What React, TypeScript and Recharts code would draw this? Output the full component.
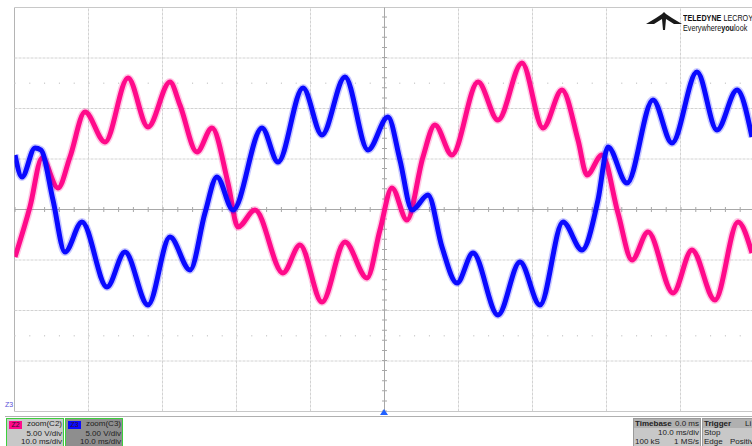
import { LineChart, Line, XAxis, YAxis, ReferenceLine } from 'recharts';

// zoom(C2) trace, pink: time in ms, level in V
const c2Time = [0.07, 2.09, 3.72, 5.88, 7.5, 9.53, 12.23, 15.34, 18.04, 21.01, 22.36, 24.66, 26.69, 28.85, 30.2, 32.5, 36.28, 38.58, 41.55, 44.66, 47.64, 49.39, 51.01, 53.04, 55.2, 56.82, 59.12, 62.64, 65.34, 68.58, 71.42, 73.99, 76.15, 77.36, 79.39, 81.55, 83.45, 85.61, 88.99, 91.55, 94.66, 97.77, 99.66];
const c2Volts = [-4.7, 0.25, 5.1, 2.13, 5.2, 9.65, 6.68, 13.02, 8.17, 12.62, 10.35, 5.69, 8.07, 2.62, -1.73, -0.05, -6.29, -3.51, -9.16, -3.22, -6.78, -2.03, 2.13, -1.04, 5.2, 8.37, 5.4, 12.62, 8.86, 14.5, 8.07, 11.83, 6.88, 3.42, 5.4, -0.35, -5.0, -2.23, -8.27, -4.01, -8.96, -1.24, -4.31];

// zoom(C3) trace, blue
const c3Time = [0.07, 1.01, 2.77, 3.58, 5.2, 6.82, 9.12, 12.5, 14.93, 18.04, 21.01, 23.72, 25.74, 27.36, 29.53, 33.45, 35.61, 38.99, 41.55, 44.66, 47.77, 50.47, 52.09, 53.72, 55.88, 57.77, 59.8, 61.96, 65.34, 68.31, 71.01, 74.12, 76.69, 78.85, 80.2, 82.77, 86.28, 88.85, 92.23, 94.93, 97.64, 99.66];
const c3Volts = [5.4, 3.22, 6.09, 5.89, 0.94, -4.21, -1.24, -7.67, -4.21, -9.46, -2.72, -5.99, -0.35, 3.22, -0.05, 8.07, 4.7, 12.03, 7.38, 13.12, 5.89, 9.16, 4.9, -0.05, 1.44, -3.71, -7.28, -4.31, -10.45, -5.2, -9.46, -1.24, -4.01, 0.94, 6.19, 2.62, 10.84, 6.58, 13.61, 7.87, 11.83, 7.18];

// 10.0 ms/div, 5.00 V/div
const timeDivs = [0, 10, 20, 30, 40, 60, 70, 80, 90, 100];
const voltDivs = [-15, -10, -5, 5, 10, 15];

const c2Data = c2Time.map((t, i) => ({ t, v: c2Volts[i] }));
const c3Data = c3Time.map((t, i) => ({ t, v: c3Volts[i] }));

const PINK = '#ff0a8a';
const BLUE = '#0a0aff';
const font = "'Liberation Sans', Arial, sans-serif";

function InfoBox({ left, width, bg, label, labelBg, lines }: { left: number; width: number; bg: string; label: string; labelBg: string; lines: string[] }) {
  return (
    <div style={{ position: 'absolute', left, top: 418, width, height: 32, background: bg, border: '1px solid #3ccf3c', boxSizing: 'border-box', fontFamily: font, fontSize: 8, color: '#222' }}>
      <div style={{ position: 'absolute', left: 2, top: 2, width: 13, height: 8, background: labelBg, fontSize: 7, lineHeight: '8px', textAlign: 'center', color: '#301030' }}>{label}</div>
      <div style={{ position: 'absolute', right: 1, top: 1, lineHeight: '8px' }}>{lines[0]}</div>
      <div style={{ position: 'absolute', right: 1, top: 11, lineHeight: '8px' }}>{lines[1]}</div>
      <div style={{ position: 'absolute', right: 1, top: 19, lineHeight: '8px' }}>{lines[2]}</div>
    </div>
  );
}

export default function App() {
  return (
    <div style={{ position: 'fixed', left: 0, top: 0, width: 752, height: 446, overflow: 'hidden', background: '#fff' }}>
      <LineChart width={760} height={446} margin={{ top: 7.5, right: 5.5, bottom: 34.5, left: 14.5 }}>
        <XAxis dataKey="t" type="number" domain={[0, 100]} hide allowDataOverflow />
        <YAxis type="number" domain={[-20, 20]} hide allowDataOverflow />
        {timeDivs.map(t => (
          <ReferenceLine key={'x' + t} x={t} stroke={t === 0 ? '#b4b4b4' : '#d2d2d2'} strokeDasharray={t === 0 ? undefined : '3 1'} />
        ))}
        {voltDivs.map(v => (
          <ReferenceLine key={'y' + v} y={v} stroke="#d2d2d2" strokeDasharray="3 1" />
        ))}
        <ReferenceLine y={20} stroke="#c8c8c8" />
        <ReferenceLine y={-20} stroke="#c8c8c8" />
        <ReferenceLine y={12.5} stroke="#cccccc" strokeWidth={1.5} strokeDasharray="1 13.8" />
        <ReferenceLine y={-12.5} stroke="#cccccc" strokeWidth={1.5} strokeDasharray="1 13.8" />
        <ReferenceLine y={0} stroke="#a8a8a8" />
        <ReferenceLine x={50} stroke="#a8a8a8" />
        <ReferenceLine y={0} stroke="#a8a8a8" strokeWidth={5} strokeDasharray="1 13.8" />
        <ReferenceLine x={50} stroke="#a8a8a8" strokeWidth={5} strokeDasharray="1 9.1" />
        <Line data={c2Data} dataKey="v" type="monotone" stroke={PINK} strokeWidth={8} strokeOpacity={0.22} dot={false} isAnimationActive={false} />
        <Line data={c2Data} dataKey="v" type="monotone" stroke={PINK} strokeWidth={5} dot={false} isAnimationActive={false} />
        <Line data={c3Data} dataKey="v" type="monotone" stroke={BLUE} strokeWidth={8} strokeOpacity={0.22} dot={false} isAnimationActive={false} />
        <Line data={c3Data} dataKey="v" type="monotone" stroke={BLUE} strokeWidth={5} dot={false} isAnimationActive={false} />
      </LineChart>

      {/* logo */}
      <svg width={40} height={24} style={{ position: 'absolute', left: 644, top: 9 }}>
        <polygon points="2,15 12,9 18,5 20,3 22,5 28,9 38,15 30,15 22,10 21,21 19,21 18,10 10,15" fill="#1a1a1a" />
      </svg>
      <div style={{ position: 'absolute', left: 683, top: 13, fontFamily: font, fontSize: 9, color: '#111', whiteSpace: 'nowrap', lineHeight: '10px', transform: 'scaleX(0.8)', transformOrigin: 'left top' }}>
        <b>TELEDYNE</b> LECROY
      </div>
      <div style={{ position: 'absolute', left: 683, top: 23, fontFamily: font, fontSize: 8.5, color: '#111', whiteSpace: 'nowrap', lineHeight: '10px', transform: 'scaleX(0.85)', transformOrigin: 'left top' }}>
        Everywhere<b>you</b>look
      </div>

      {/* markers */}
      <div style={{ position: 'absolute', left: 5, top: 401, fontFamily: font, fontSize: 7, color: '#5a50d8', lineHeight: '8px' }}>Z3</div>
      <svg width={10} height={8} style={{ position: 'absolute', left: 379, top: 409 }}>
        <polygon points="5,0 9,6 1,6" fill="#2060ff" />
      </svg>

      {/* bottom panel */}
      <div style={{ position: 'absolute', left: 5, top: 416, width: 760, height: 1, background: '#b0b0b0' }} />
      <InfoBox left={6} width={58} bg="#c8c8c8" label="Z2" labelBg={PINK} lines={['zoom(C2)', '5.00 V/div', '10.0 ms/div']} />
      <InfoBox left={65} width={58} bg="#8e8e8e" label="Z3" labelBg={BLUE} lines={['zoom(C3)', '5.00 V/div', '10.0 ms/div']} />

      <div style={{ position: 'absolute', left: 633, top: 418, width: 68, height: 32, background: '#c8c8c8', border: '1px solid #9a9a9a', boxSizing: 'border-box', fontFamily: font, fontSize: 8, color: '#222' }}>
        <div style={{ position: 'absolute', left: 0, top: 0, right: 0, height: 9, background: '#b0b0b0' }} />
        <div style={{ position: 'absolute', left: 1, top: 0, lineHeight: '9px', fontWeight: 'bold' }}>Timebase</div>
        <div style={{ position: 'absolute', right: 1, top: 0, lineHeight: '9px' }}>0.0 ms</div>
        <div style={{ position: 'absolute', right: 1, top: 10, lineHeight: '8px' }}>10.0 ms/div</div>
        <div style={{ position: 'absolute', left: 1, top: 19, lineHeight: '8px' }}>100 kS</div>
        <div style={{ position: 'absolute', right: 1, top: 19, lineHeight: '8px' }}>1 MS/s</div>
      </div>
      <div style={{ position: 'absolute', left: 702, top: 418, width: 50, height: 32, background: '#c8c8c8', border: '1px solid #9a9a9a', borderRight: 'none', boxSizing: 'border-box', fontFamily: font, fontSize: 8, color: '#222', overflow: 'hidden' }}>
        <div style={{ position: 'absolute', left: 0, top: 0, right: 0, height: 9, background: '#b0b0b0' }} />
        <div style={{ position: 'absolute', left: 1, top: 0, lineHeight: '9px', fontWeight: 'bold' }}>Trigger</div>
        <div style={{ position: 'absolute', left: 42, top: 0, lineHeight: '9px' }}>Li</div>
        <div style={{ position: 'absolute', left: 1, top: 10, lineHeight: '8px' }}>Stop</div>
        <div style={{ position: 'absolute', left: 1, top: 19, lineHeight: '8px' }}>Edge</div>
        <div style={{ position: 'absolute', left: 27, top: 19, lineHeight: '8px' }}>Positiv</div>
      </div>
    </div>
  );
}
